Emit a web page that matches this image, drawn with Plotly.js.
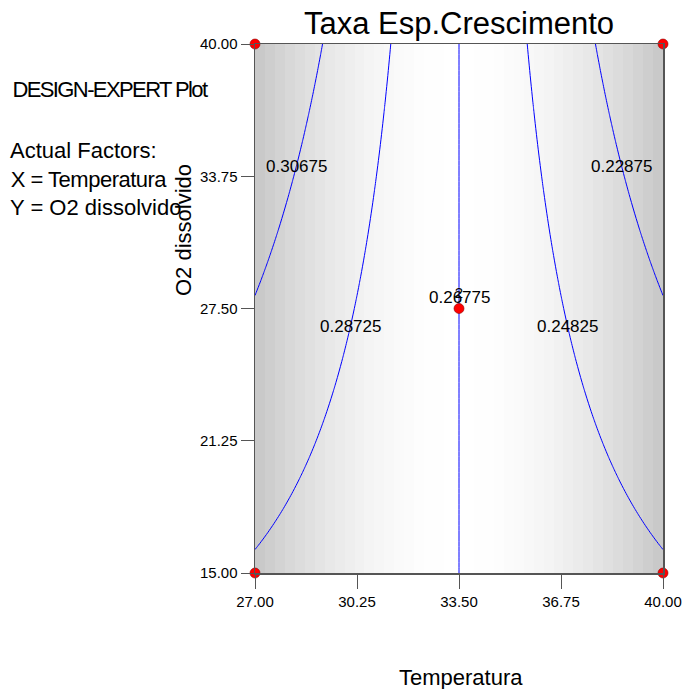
<!DOCTYPE html>
<html>
<head>
<meta charset="utf-8">
<script src="https://cdn.plot.ly/plotly-3.0.1.min.js"></script>
<style>
  html, body { margin: 0; padding: 0; background: #fff; }
  #chart { width: 684px; height: 689px; }
</style>
</head>
<body>
<div id="chart"></div>
<script>
// Axis ticks (actual factor units)
const tempTicks = [27, 30.25, 33.5, 36.75, 40];
const o2Ticks = [15, 21.25, 27.5, 33.75, 40];

// Design points (factorial corners + replicated centre point)
const designTemp = [27, 27, 40, 40, 33.5];
const designO2 = [15, 40, 15, 40, 27.5];
const designReps = [1, 1, 1, 1, 2];

// Fitted model in coded factors: Taxa = b0 + bA*A + bB*B + bAB*A*B
const modelTerms = ['Intercept', 'A', 'B', 'AB'];
const modelCoef = [0.26775, -0.0380, 0.0, -0.0203];

// Contour levels shown on the plot
const contourLevels = [0.22875, 0.24825, 0.26775, 0.28725, 0.30675];

// Background shading bands across Temperatura (gray level, 0-255)
const shadeLevels = [201, 206, 211, 216, 220, 224, 228, 232, 235, 238, 241,
  244, 246, 248, 250, 251, 253, 254, 254, 255, 255, 255, 254, 254, 253, 251,
  250, 248, 246, 244, 241, 238, 235, 232, 228, 224, 220, 216, 211, 206, 201];

// ---- helpers ----
const xMin = tempTicks[0], xMax = tempTicks[tempTicks.length - 1];
const yMin = o2Ticks[0], yMax = o2Ticks[o2Ticks.length - 1];
const xMid = (xMin + xMax) / 2, xHalf = (xMax - xMin) / 2;
const yMid = (yMin + yMax) / 2, yHalf = (yMax - yMin) / 2;
const coef = Object.fromEntries(modelTerms.map((t, i) => [t, modelCoef[i]]));

function predict(t, o) {
  const A = (t - xMid) / xHalf, B = (o - yMid) / yHalf;
  return coef.Intercept + coef.A * A + coef.B * B + coef.AB * A * B;
}
// Temperatura where a contour level crosses a given O2 value
function tempAt(level, o) {
  const B = (o - yMid) / yHalf;
  const A = (level - coef.Intercept - coef.B * B) / (coef.A + coef.AB * B);
  return xMid + xHalf * A;
}

// plot area in pixels
const L = 255, R = 21, T = 44, Bm = 116, W = 684, H = 689;
const pw = W - L - R, ph = H - T - Bm;
const pxX = px => (px - L) / pw;
const pxY = py => (H - Bm - py) / ph;

// prediction grid
const nx = 130, ny = 101;
const gx = Array.from({length: nx}, (_, i) => xMin + i * (xMax - xMin) / (nx - 1));
const gy = Array.from({length: ny}, (_, j) => yMin + j * (yMax - yMin) / (ny - 1));
const gz = gy.map(o => gx.map(t => predict(t, o)));

// shading band edges
const nb = shadeLevels.length;
const bandEdges = Array.from({length: nb + 1}, (_, i) => xMin + i * (xMax - xMin) / nb);

const font = 'Arial, "Liberation Sans", sans-serif';

const shade = {
  type: 'heatmap',
  x: bandEdges,
  y: [yMin, yMax],
  z: [shadeLevels],
  zmin: 0, zmax: 255,
  colorscale: [[0, '#000000'], [1, '#ffffff']],
  zsmooth: false,
  showscale: false,
  hoverinfo: 'skip'
};

const contour = {
  type: 'contour',
  x: gx, y: gy, z: gz,
  autocontour: false,
  contours: {
    start: contourLevels[0],
    end: contourLevels[contourLevels.length - 1],
    size: contourLevels[1] - contourLevels[0],
    coloring: 'lines',
    showlabels: false
  },
  colorscale: [[0, '#0000ff'], [1, '#0000ff']],
  line: {width: 1, smoothing: 1},
  showscale: false,
  hoverinfo: 'skip'
};

const points = {
  type: 'scatter',
  mode: 'markers+text',
  x: designTemp,
  y: designO2,
  text: designReps.map(r => r > 1 ? String(r) : ''),
  textposition: 'top center',
  textfont: {family: font, size: 15, color: '#000'},
  marker: {size: 10, color: '#ff0000', line: {color: '#8b0000', width: 0.6}},
  cliponaxis: false,
  hoverinfo: 'skip'
};

// contour label placement (O2 value along each line)
const labelO2 = {'0.30675': 34.2, '0.28725': 26.67, '0.26775': 28.0, '0.24825': 26.67, '0.22875': 34.2};
const contourLabels = contourLevels.map(lv => ({
  x: tempAt(lv, labelO2[lv.toFixed(5)]),
  y: labelO2[lv.toFixed(5)],
  xref: 'x', yref: 'y',
  text: lv.toFixed(5),
  showarrow: false,
  xanchor: 'center', yanchor: 'middle',
  font: {family: font, size: 17, color: '#000'}
}));

const infoLines = [
  {text: 'DESIGN-EXPERT Plot', py: 89, px: -4},
  {text: 'Actual Factors:', py: 150, px: 8},
  {text: 'X = Temperatura', py: 179, px: 5},
  {text: 'Y = O2 dissolvido', py: 207, px: 8}
];
const infoAnn = infoLines.map(l => ({
  x: pxX(l.px), y: pxY(l.py), xref: 'paper', yref: 'paper',
  text: l.text, showarrow: false, xanchor: 'left', yanchor: 'middle',
  font: {family: font, size: 22, color: '#000'}
}));

const axisTitles = [
  {x: pxX(183), y: pxY(230), xref: 'paper', yref: 'paper', text: 'O2 dissolvido',
   textangle: -90, showarrow: false, xanchor: 'center', yanchor: 'middle',
   font: {family: font, size: 22, color: '#000'}},
  {x: pxX(461), y: pxY(677), xref: 'paper', yref: 'paper', text: 'Temperatura',
   showarrow: false, xanchor: 'center', yanchor: 'middle',
   font: {family: font, size: 22, color: '#000'}}
];

const axisCommon = {
  showgrid: false, zeroline: false,
  showline: true, mirror: true, linecolor: '#555', linewidth: 1.5,
  ticks: 'outside', tickcolor: '#555', tickwidth: 1,
  tickformat: '.2f',
  tickfont: {family: font, size: 15, color: '#000'},
  fixedrange: true
};

const layout = {
  width: W, height: H,
  margin: {l: L, r: R, t: T, b: Bm},
  paper_bgcolor: '#fff', plot_bgcolor: '#fff',
  showlegend: false,
  title: {
    text: 'Taxa Esp.Crescimento',
    font: {family: font, size: 31, color: '#000'},
    xref: 'paper', x: 0.5, xanchor: 'center',
    yref: 'container', y: 1 - 23 / H, yanchor: 'middle'
  },
  xaxis: Object.assign({}, axisCommon, {
    range: [xMin, xMax], tickmode: 'array', tickvals: tempTicks, ticklen: 14
  }),
  yaxis: Object.assign({}, axisCommon, {
    range: [yMin, yMax], tickmode: 'array', tickvals: o2Ticks, ticklen: 13
  }),
  annotations: [...contourLabels, ...infoAnn, ...axisTitles]
};

Plotly.newPlot('chart', [shade, contour, points], layout, {displayModeBar: false, staticPlot: true})
  .then(() => {
    document.querySelectorAll('.annotation-text').forEach(t => {
      if (t.textContent === 'DESIGN-EXPERT Plot') t.style.letterSpacing = '-1.6px';
      if (t.textContent === 'X = Temperatura') t.style.letterSpacing = '-0.5px';
    });
  });
</script>
</body>
</html>
